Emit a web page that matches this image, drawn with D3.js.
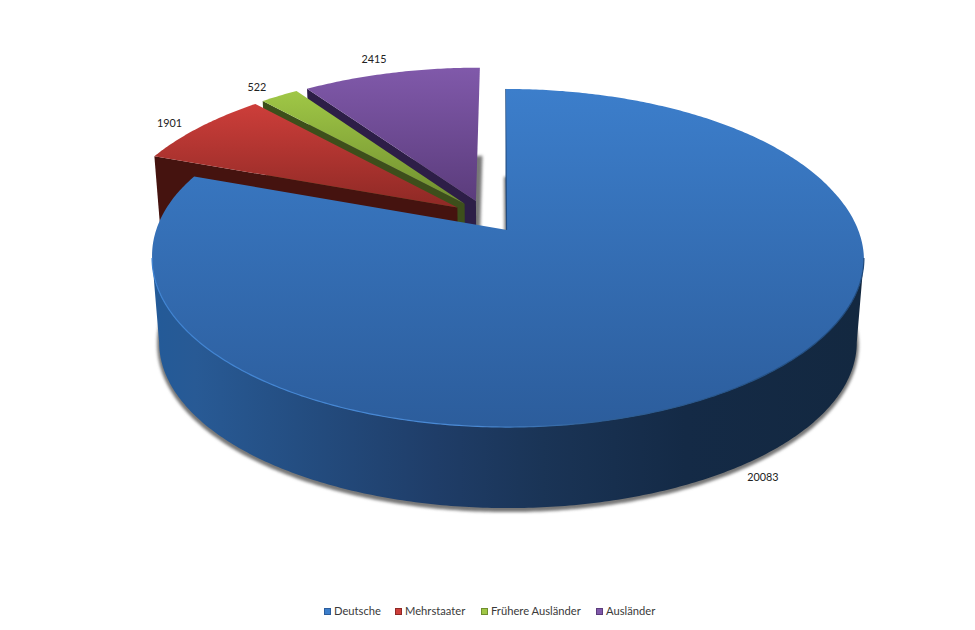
<!DOCTYPE html>
<html><head><meta charset="utf-8">
<script src="https://cdn.jsdelivr.net/npm/d3@7/dist/d3.min.js"></script>
<style>html,body{margin:0;padding:0;background:#fff}svg{display:block}text{font-family:Lato,"Open Sans",sans-serif}</style>
</head><body><svg id="c" width="975" height="630"></svg>
<script>
const categories = ["Deutsche", "Mehrstaater", "Frühere Ausländer", "Ausländer"];
const values = [20083, 1901, 522, 2415];
const topLight = ["#3c7ecb", "#cd3e3a", "#a0c746", "#8059aa"];
const topDark = ["#2c5d9c", "#8e2925", "#6f8e2f", "#5b3c7c"];
const cutColor = ["#1e4a80", "#45130f", "#3d4f1b", "#2d1e47"];

const W = 975, H = 630;
const apexX = 506, apexY = 230, halfW = 351, halfD = 164.4, persp = 0.1657;
const explode = 0.102, lowerScale = 0.98, lowerDrop = 85;

const xScale = d3.scaleLinear().domain([-1, 1]).range([apexX - halfW, apexX + halfW]);
const yScale = d3.scaleLinear().domain([-1, 1]).range([apexY + halfD, apexY - halfD]);
const frontShift = d3.scaleLinear().domain([-0.166, 0.234]).range([2, 0]).clamp(true);

function project(x, z, lower) {
  const s = 1 / (1 + persp * z);
  let X = xScale(x * s) + frontShift(z), Y = yScale(z * s);
  if (lower) { X = apexX + (X - apexX) * lowerScale; Y = apexY + (Y - apexY) * lowerScale + lowerDrop; }
  return [X, Y];
}

const arcs = d3.pie().sort(null).value(d => d).startAngle(0).endAngle(2 * Math.PI)(values);
const blueMid = (arcs[0].startAngle + arcs[0].endAngle) / 2;
const origin = [-0.096 * Math.sin(blueMid), -0.096 * Math.cos(blueMid)];
const fold = Math.acos(-persp);
const foldA = fold, foldB = 2 * Math.PI - fold;

arcs.forEach(a => {
  const m = (a.startAngle + a.endAngle) / 2;
  a.mid = m;
  const e = a.index === 0 ? 0.096 : explode;
  a.ax = origin[0] * (e / 0.096) + e * Math.sin(m);
  a.az = origin[1] * (e / 0.096) + e * Math.cos(m);
});
const rim = (a, t, lower, r = 1) => project(a.ax + r * Math.sin(t), a.az + r * Math.cos(t), lower);
const sweepRange = (a, t0, t1, lower) => {
  const n = Math.max(8, Math.ceil((t1 - t0) * 90));
  return d3.range(n + 1).map(i => rim(a, t0 + (t1 - t0) * i / n, lower));
};
const sweep = (a, lower) => sweepRange(a, a.startAngle, a.endAngle, lower);
const line = d3.line();
const svg = d3.select("#c");
const defs = svg.append("defs");

defs.append("filter").attr("id", "soft")
  .attr("filterUnits", "userSpaceOnUse").attr("x", 0).attr("y", 0).attr("width", W).attr("height", H)
  .append("feGaussianBlur").attr("stdDeviation", 1.8);

arcs.forEach((a, i) => {
  const g = defs.append("linearGradient").attr("id", "top" + i).attr("x1", 0).attr("x2", 0).attr("y1", 0).attr("y2", 1);
  g.append("stop").attr("offset", 0).attr("stop-color", topLight[i]);
  g.append("stop").attr("offset", 1).attr("stop-color", topDark[i]);
});
const wall = defs.append("linearGradient").attr("id", "wall").attr("gradientUnits", "userSpaceOnUse")
  .attr("x1", 153).attr("x2", 862).attr("y1", 0).attr("y2", 0);
[[0, "#235a98"], [0.06, "#285a95"], [0.2, "#244e82"], [0.4, "#1f3d68"], [0.55, "#1a3456"], [0.75, "#142a46"], [1, "#132840"]]
  .forEach(s => wall.append("stop").attr("offset", s[0]).attr("stop-color", s[1]));
const glow = defs.append("linearGradient").attr("id", "glow").attr("gradientUnits", "userSpaceOnUse")
  .attr("x1", 153).attr("x2", 862).attr("y1", 0).attr("y2", 0);
[[0, "#3f83d2"], [0.45, "#4a8ad6"], [0.62, "#2f6097"], [1, "#1f4a7d"]]
  .forEach(s => glow.append("stop").attr("offset", s[0]).attr("stop-color", s[1]));

// shadows of the slice undersides
const shadow = svg.append("g").attr("filter", "url(#soft)").attr("transform", "translate(0,2)");
arcs.forEach(a => {
  const p = [project(a.ax, a.az, true), ...sweep(a, true)];
  shadow.append("path").attr("d", line(p) + "Z").attr("fill", "#777").attr("stroke", "#777").attr("stroke-width", 4);
});

// slices, back to front
[3, 2, 1, 0].forEach(i => {
  const a = arcs[i];
  const tp = sweep(a, false), lo = sweep(a, true);
  const A = project(a.ax, a.az, false), B = project(a.ax, a.az, true);
  const g = svg.append("g");
  if (i === 0) {
    const t = sweepRange(a, foldA, foldB, false), b = sweepRange(a, foldA, foldB, true);
    g.append("path").attr("d", line([...t, ...b.reverse()]) + "Z").attr("fill", "url(#wall)");
  }
  g.append("path").attr("d", line([A, tp[0], lo[0], B]) + "Z").attr("fill", cutColor[i])
    .attr("stroke", cutColor[i]).attr("stroke-width", i === 0 ? 1 : 0);
  g.append("path").attr("d", line([A, ...tp]) + "Z").attr("fill", `url(#top${i})`);
  if (i === 0) g.append("path").attr("d", line(sweepRange(a, foldA, foldB, false)))
    .attr("fill", "none").attr("stroke", "url(#glow)").attr("stroke-width", 1.2);
});

// value labels
const labelRadius = [1.06, 1.09, 1.07, 1.07];
const labelNudge = [[11, 2], [-9, 6], [-11, 2], [-12, -2]];
arcs.forEach((a, i) => {
  const p = rim(a, a.mid, i === 0, labelRadius[i]);
  svg.append("text").attr("x", p[0] + labelNudge[i][0]).attr("y", p[1] + labelNudge[i][1])
    .attr("text-anchor", "middle").attr("font-size", 10.8).attr("fill", "#222").text(values[i]);
});

// legend
const swatchX = [324, 395, 481, 596];
categories.forEach((c, i) => {
  svg.append("rect").attr("x", swatchX[i] + 0.5).attr("y", 608.5).attr("width", 6).attr("height", 6)
    .attr("fill", topLight[i]).attr("stroke", topDark[i]);
  svg.append("text").attr("x", swatchX[i] + 10).attr("y", 615).attr("font-size", 11.2).attr("fill", "#3a3a3a").text(c);
});
</script></body></html>
